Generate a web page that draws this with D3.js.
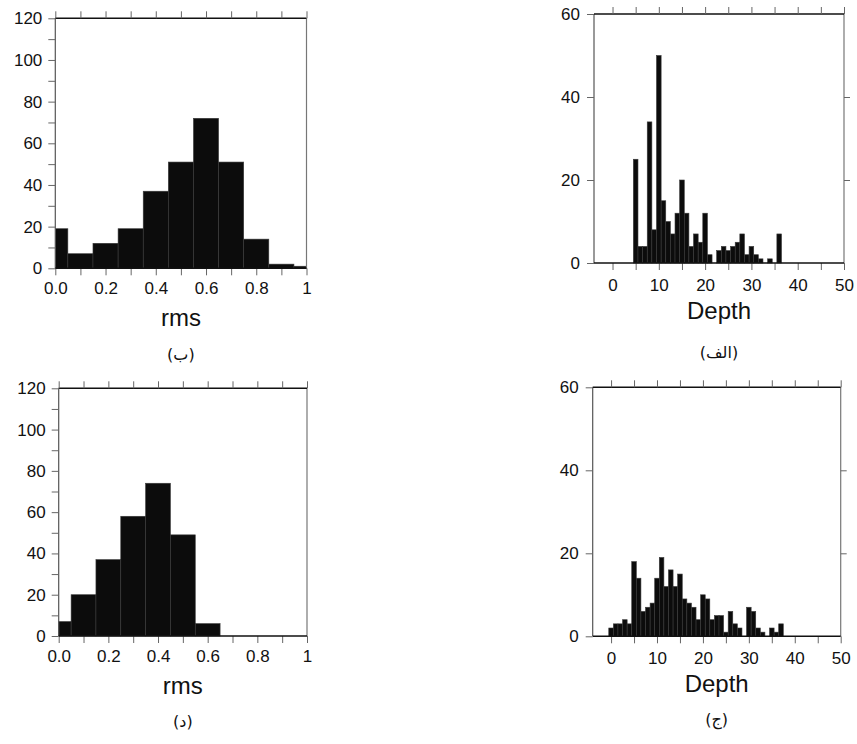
<!DOCTYPE html>
<html>
<head>
<meta charset="utf-8">
<script src="https://cdn.jsdelivr.net/npm/d3@7"></script>
<style>
  body { margin: 0; background: #fff; }
  text { font-family: "Liberation Sans", Arial, sans-serif; fill: #111; }
</style>
</head>
<body>
<svg id="chart" width="857" height="744"></svg>
<script>
// rms histograms (bin centres, width 0.1)
const rmsBins = [0.0, 0.1, 0.2, 0.3, 0.4, 0.5, 0.6, 0.7, 0.8, 0.9, 1.0];
const rmsCountsB = [19, 7, 12, 19, 37, 51, 72, 51, 14, 2, 1];
const rmsCountsD = [7, 20, 37, 58, 74, 49, 6, 0, 0, 0, 0];

// depth histograms (bin centres, width 1 km)
const depthBinsA = [5, 6, 7, 8, 9, 10, 11, 12, 13, 14, 15, 16, 17, 18, 19, 20,
  21, 22, 23, 24, 25, 26, 27, 28, 29, 30, 31, 32, 33, 34, 35, 36];
const depthCountsA = [25, 4, 4, 34, 8, 50, 15, 10, 7, 12, 20, 12, 4, 7, 5, 12,
  2, 0, 3, 4, 3, 4, 5, 7, 2, 4, 2, 1, 0, 1, 0, 7];
const depthBinsC = [0, 1, 2, 3, 4, 5, 6, 7, 8, 9, 10, 11, 12, 13, 14, 15, 16, 17, 18,
  19, 20, 21, 22, 23, 24, 25, 26, 27, 28, 29, 30, 31, 32, 33, 34, 35, 36, 37];
const depthCountsC = [2, 3, 3, 4, 3, 18, 14, 6, 7, 8, 14, 19, 12, 16, 12, 15, 9, 8, 7,
  4, 10, 9, 4, 5, 5, 1, 6, 3, 2, 0, 7, 6, 2, 1, 0, 2, 1, 3];

const rmsTicks = [0, 0.1, 0.2, 0.3, 0.4, 0.5, 0.6, 0.7, 0.8, 0.9, 1];
const depthTicks = [0, 5, 10, 15, 20, 25, 30, 35, 40, 45, 50];

const svg = d3.select("#chart");

function panel(o) {
  const x = d3.scaleLinear().domain(o.xDomain).range([o.left, o.right]);
  const y = d3.scaleLinear().domain(o.yDomain).range([o.bottom, o.top]);
  const g = svg.append("g");
  const half = o.binWidth / 2;

  const bars = o.bins.map((c, i) => ({
    x0: Math.max(o.xDomain[0], c - half),
    x1: Math.min(o.xDomain[1], c + half),
    v: o.counts[i]
  })).filter(d => d.v > 0);

  g.selectAll("rect.bar").data(bars).join("rect")
    .attr("class", "bar")
    .attr("x", d => x(d.x0))
    .attr("width", d => x(d.x1) - x(d.x0))
    .attr("y", d => y(d.v))
    .attr("height", d => y(0) - y(d.v))
    .attr("fill", "#0c0c0c")
    .attr("stroke", "#3a3a3a")
    .attr("stroke-width", 0.6);

  // frame
  g.append("line").attr("x1", o.left).attr("x2", o.left).attr("y1", o.top).attr("y2", o.bottom)
    .attr("stroke", "#555").attr("stroke-width", 1.2);
  g.append("line").attr("x1", o.right).attr("x2", o.right).attr("y1", o.top).attr("y2", o.bottom)
    .attr("stroke", "#777").attr("stroke-width", 1.2);
  g.append("line").attr("x1", o.left).attr("x2", o.right).attr("y1", o.top).attr("y2", o.top)
    .attr("stroke", "#111").attr("stroke-width", 1.6);

  const bottom = g.append("g").attr("transform", `translate(0,${o.bottom})`)
    .call(d3.axisBottom(x).tickValues(o.xTicks).tickSize(7).tickPadding(o.xPad).tickFormat(o.fmtX));
  g.append("g").attr("transform", `translate(0,${o.top})`)
    .call(d3.axisTop(x).tickValues(o.xTicks).tickSize(7).tickFormat(""));
  g.append("g").attr("transform", `translate(${o.left},0)`)
    .call(d3.axisLeft(y).tickValues(o.yTicks).tickSize(7).tickPadding(o.yPad)
      .tickFormat(d => d % 20 === 0 ? d : ""));
  if (o.rightTicks) {
    g.append("g").attr("transform", `translate(${o.right},0)`)
      .call(d3.axisRight(y).tickValues(o.rightTicks).tickSize(6).tickFormat(""));
  }

  g.selectAll(".domain").remove();
  g.selectAll(".tick line").attr("stroke", "#666").attr("stroke-width", 1);
  g.selectAll(".tick text").attr("font-size", 17).attr("fill", "#111");
  bottom.append("line").attr("x1", o.left).attr("x2", o.right)
    .attr("stroke", "#111").attr("stroke-width", 1.6);

  g.append("text")
    .attr("x", (o.left + o.right) / 2).attr("y", o.bottom + o.titleDy)
    .attr("text-anchor", "middle").attr("font-size", 24)
    .text(o.title);

  g.append("text")
    .attr("x", (o.left + o.right) / 2).attr("y", o.bottom + o.capDy)
    .attr("text-anchor", "middle").attr("font-size", 16)
    .style("font-family", "'DejaVu Sans', 'Noto Sans', sans-serif")
    .text(o.caption);
}

const fmtRms = d => {
  const k = Math.round(d * 10);
  if (k % 2 !== 0) return "";
  return k === 10 ? "1" : d.toFixed(1);
};
const fmtDepth = d => d % 10 === 0 ? d : "";
const rmsY = [0, 10, 20, 30, 40, 50, 60, 70, 80, 90, 100, 110, 120];
const depthY = [0, 20, 40, 60];

panel({ left: 55.3, right: 306.5, top: 18.3, bottom: 268.3,
  xDomain: [0, 1], yDomain: [0, 120], binWidth: 0.1,
  bins: rmsBins, counts: rmsCountsB, xTicks: rmsTicks, yTicks: rmsY,
  fmtX: fmtRms, xPad: 7, yPad: 6, title: "rms", caption: "(ب)", titleDy: 58, capDy: 92 });

panel({ left: 58.7, right: 307, top: 388.3, bottom: 636,
  xDomain: [0, 1], yDomain: [0, 120], binWidth: 0.1,
  bins: rmsBins, counts: rmsCountsD, xTicks: rmsTicks, yTicks: rmsY,
  fmtX: fmtRms, xPad: 7, yPad: 6, title: "rms", caption: "(د)", titleDy: 58, capDy: 91 });

panel({ left: 594, right: 844, top: 14, bottom: 263,
  xDomain: [-4, 50], yDomain: [0, 60], binWidth: 1,
  bins: depthBinsA, counts: depthCountsA, xTicks: depthTicks, yTicks: depthY,
  rightTicks: [20, 40],
  fmtX: fmtDepth, xPad: 9, yPad: 7, title: "Depth", caption: "(الف)", titleDy: 56, capDy: 95 });

panel({ left: 592.7, right: 840.7, top: 387.3, bottom: 636.3,
  xDomain: [-4, 50], yDomain: [0, 60], binWidth: 1,
  bins: depthBinsC, counts: depthCountsC, xTicks: depthTicks, yTicks: depthY,
  rightTicks: [20, 40],
  fmtX: fmtDepth, xPad: 9, yPad: 7, title: "Depth", caption: "(ج)", titleDy: 56, capDy: 89 });
</script>
</body>
</html>
